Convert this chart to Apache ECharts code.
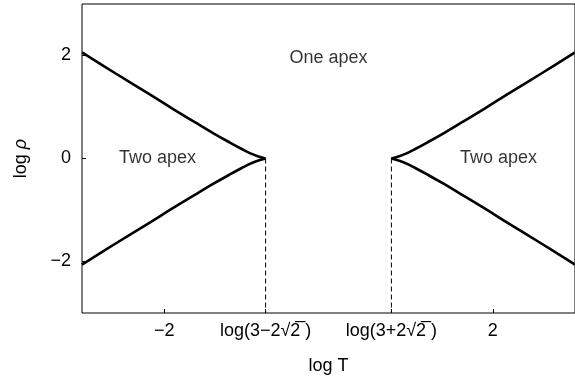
<!DOCTYPE html>
<html>
<head>
<meta charset="utf-8">
<script src="https://cdn.jsdelivr.net/npm/echarts@6/dist/echarts.min.js"></script>
<style>
html, body { margin: 0; padding: 0; background: #fff; }
#chart { width: 575px; height: 382px; }
</style>
</head>
<body>
<div id="chart"></div>
<script>
// apex points: log10(3-2*sqrt2), log10(3+2*sqrt2)
var apexLeft = -0.7655;
var apexRight = 0.7655;

// boundary curves (log T, log rho)
var leftT = [-3.0, -2.6, -2.2, -1.9, -1.6, -1.4, -1.2, -1.05, -0.95, -0.87, -0.7655];
var leftUpper = [2.06, 1.66, 1.27, 0.97, 0.68, 0.49, 0.31, 0.18, 0.10, 0.05, 0];
var leftLower = [-2.06, -1.66, -1.27, -0.97, -0.68, -0.49, -0.31, -0.18, -0.10, -0.05, 0];

var rightT = [0.7655, 0.87, 0.95, 1.05, 1.2, 1.4, 1.6, 1.9, 2.2, 2.6, 3.0];
var rightUpper = [0, 0.05, 0.10, 0.18, 0.31, 0.49, 0.68, 0.97, 1.27, 1.66, 2.06];
var rightLower = [0, -0.05, -0.10, -0.18, -0.31, -0.49, -0.68, -0.97, -1.27, -1.66, -2.06];

var xTicks = [-2, apexLeft, apexRight, 2];
var xTickText = ['\u22122', 'log(3\u22122\u221a2\u0305 )', 'log(3+2\u221a2\u0305 )', '2'];
var yTicks = [-2, 0, 2];
var yTickText = ['\u22122', '0', '2'];

var regionNames = ['Two apex', 'One apex', 'Two apex'];
var regionT = [-2.08, 0, 2.07];
var regionRho = [0, 1.95, 0];

function pairs(xs, ys) {
	var out = [];
	for(var i = 0; i < xs.length; i++) {
		out.push([xs[i], ys[i]]);
	}
	return out;
}

function curve(xs, ys) {
	return {
		type: 'line',
		data: pairs(xs, ys),
		smooth: 0.4,
		symbol: 'none',
		lineStyle: {
			color: '#000',
			width: 2.6
		},
		z: 3
	};
}

function dashed(x) {
	return {
		type: 'line',
		data: [[x, 0], [x, -3]],
		symbol: 'none',
		lineStyle: {
			color: '#000',
			width: 1,
			type: [5, 3]
		},
		z: 2
	};
}

var font = '"Liberation Sans", Arial, sans-serif';
var myChart = echarts.init(document.getElementById('chart'));
var option = {
	animation: false,
	backgroundColor: '#fff',
	textStyle: {
		fontFamily: font
	},
	grid: {
		left: 82,
		top: 4,
		width: 500,
		height: 309,
		show: true,
		borderColor: '#000',
		borderWidth: 1,
		backgroundColor: 'transparent'
	},
	xAxis: {
		type: 'value',
		min: -3,
		max: 3,
		name: 'log T',
		nameLocation: 'middle',
		nameGap: 44,
		nameTextStyle: {
			color: '#000',
			fontSize: 18,
			fontFamily: font
		},
		splitLine: { show: false },
		axisLine: { show: false, onZero: false },
		axisTick: {
			show: true,
			inside: true,
			length: 4,
			customValues: xTicks,
			lineStyle: { color: '#000' }
		},
		axisLabel: {
			color: '#000',
			fontSize: 18,
			fontFamily: font,
			margin: 9,
			customValues: xTicks,
			formatter: function(v) {
				for(var i = 0; i < xTicks.length; i++) {
					if(Math.abs(v - xTicks[i]) < 1e-6) return xTickText[i];
				}
				return '';
			}
		}
	},
	yAxis: {
		type: 'value',
		min: -3,
		max: 3,
		name: '{a|log }{b|\u03c1}',
		nameLocation: 'middle',
		nameGap: 52,
		nameTextStyle: {
			color: '#000',
			fontSize: 18,
			fontFamily: font,
			rich: {
				a: { fontSize: 18, fontFamily: font, color: '#000' },
				b: { fontSize: 18, fontFamily: font, color: '#000', fontStyle: 'italic' }
			}
		},
		splitLine: { show: false },
		axisLine: { show: false, onZero: false },
		axisTick: {
			show: true,
			inside: true,
			length: 4,
			customValues: yTicks,
			lineStyle: { color: '#000' }
		},
		axisLabel: {
			color: '#000',
			fontSize: 18,
			fontFamily: font,
			margin: 11,
			customValues: yTicks,
			formatter: function(v) {
				for(var i = 0; i < yTicks.length; i++) {
					if(Math.abs(v - yTicks[i]) < 1e-6) return yTickText[i];
				}
				return '';
			}
		}
	},
	series: [
		curve(leftT, leftUpper),
		curve(leftT, leftLower),
		curve(rightT, rightUpper),
		curve(rightT, rightLower),
		dashed(apexLeft),
		dashed(apexRight),
		{
			type: 'scatter',
			symbolSize: 0,
			itemStyle: { color: '#000' },
			silent: true,
			data: pairs(regionT, regionRho).map(function(p, i) {
				return { value: p, name: regionNames[i] };
			}),
			label: {
				show: true,
				position: 'inside',
				formatter: '{b}',
				color: '#000',
				textBorderWidth: 0,
				fontSize: 18,
				fontFamily: font
			},
			z: 4
		}
	]
};
myChart.setOption(option);
</script>
</body>
</html>
